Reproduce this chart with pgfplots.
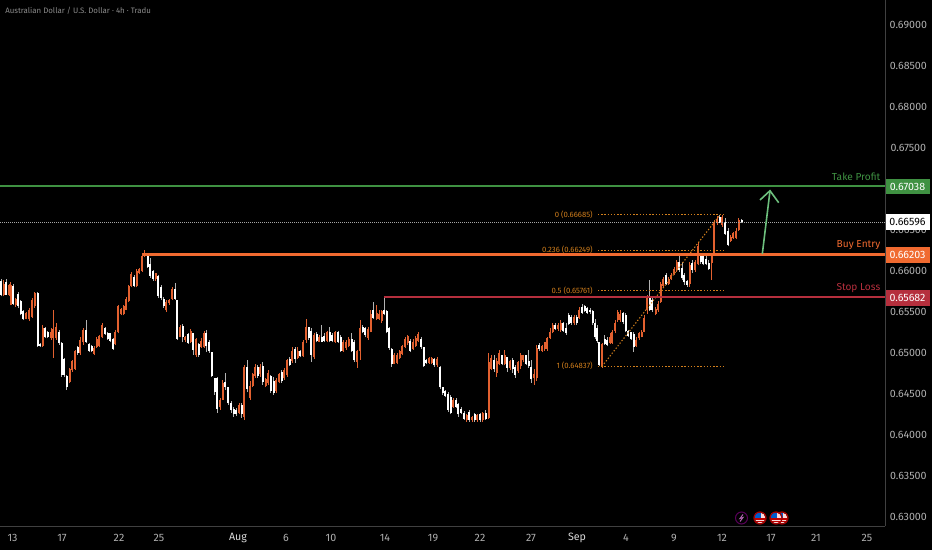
\documentclass[border=0pt]{standalone}
\usepackage{pgfplots}
\usepackage{pgfplotstable}
\usepackage{fontspec}
\setmainfont{Fira Sans}
\pgfplotsset{compat=1.18}
\definecolor{upc}{HTML}{E2602F}
\definecolor{tpg}{HTML}{3F9142}
\definecolor{ben}{HTML}{F06A30}
\definecolor{slr}{HTML}{B52F3D}
\definecolor{fib}{HTML}{D07E1C}
\definecolor{tickc}{HTML}{B0B0B0}
\definecolor{sep}{HTML}{404040}
\definecolor{arr}{HTML}{6DBF7D}
\pgfplotstableread{
x o h l c
1 0.6588 0.6590 0.6569 0.6571
3.7 0.6571 0.6589 0.6569 0.6584
6.4 0.6586 0.6590 0.6571 0.6571
9 0.6571 0.6584 0.6569 0.6583
10.7 0.6559 0.6587 0.6558 0.6583
13.3 0.6582 0.6584 0.6559 0.6560
15.5 0.6558 0.6567 0.6556 0.6566
18 0.6572 0.6574 0.6555 0.6557
20.7 0.6563 0.6565 0.6546 0.6548
23.3 0.6551 0.6552 0.6540 0.6541
26 0.6542 0.6550 0.6541 0.6549
29 0.6541 0.6555 0.6539 0.6553
32 0.6544 0.6567 0.6543 0.6565
34.7 0.6557 0.6574 0.6555 0.6573
37.7 0.6573 0.6574 0.6507 0.6508
40 0.6511 0.6512 0.6507 0.6508
42.7 0.6508 0.6534 0.6507 0.6530
45 0.6530 0.6532 0.6518 0.6519
47.7 0.6525 0.6527 0.6518 0.6520
51 0.6518 0.6530 0.6516 0.6526
53.3 0.6518 0.6552 0.6494 0.6529
56 0.6518 0.6536 0.6516 0.6532
59 0.6526 0.6528 0.6510 0.6512
61.7 0.6512 0.6513 0.6471 0.6473
64 0.6493 0.6494 0.6471 0.6473
66.7 0.6472 0.6473 0.6455 0.6458
69.7 0.6465 0.6482 0.6463 0.6480
72.3 0.6479 0.6492 0.6477 0.6490
75 0.6481 0.6504 0.6479 0.6502
77.7 0.6507 0.6508 0.6498 0.6500
80.3 0.6500 0.6519 0.6498 0.6516
83 0.6513 0.6530 0.6510 0.6528
86 0.6528 0.6540 0.6512 0.6513
89 0.6511 0.6512 0.6501 0.6503
91.5 0.6509 0.6510 0.6501 0.6503
94 0.6499 0.6508 0.6498 0.6506
96.7 0.6507 0.6519 0.6506 0.6517
99.3 0.6509 0.6522 0.6507 0.6521
102 0.6519 0.6536 0.6518 0.6534
105 0.6530 0.6532 0.6522 0.6523
107.5 0.6524 0.6526 0.6516 0.6517
110.3 0.6524 0.6524 0.6513 0.6515
113 0.6517 0.6518 0.6504 0.6505
115.3 0.6511 0.6528 0.6510 0.6526
118.3 0.6525 0.6559 0.6524 0.6557
121 0.6547 0.6555 0.6546 0.6554
123.7 0.6547 0.6559 0.6546 0.6557
126 0.6553 0.6568 0.6552 0.6566
128.7 0.6564 0.6583 0.6562 0.6582
131.3 0.6582 0.6599 0.6580 0.6596
134 0.6593 0.6595 0.6580 0.6582
136.7 0.6582 0.6602 0.6580 0.6600
139.3 0.6597 0.6604 0.6596 0.6602
142 0.6600 0.6622 0.6599 0.6618
144.7 0.6618 0.6625 0.6617 0.6621
147.7 0.6620 0.6621 0.6604 0.6605
150.3 0.6608 0.6616 0.6592 0.6594
153 0.6600 0.6601 0.6588 0.6590
155.7 0.6590 0.6598 0.6588 0.6597
158.3 0.6594 0.6595 0.6567 0.6570
161 0.6581 0.6583 0.6565 0.6567
163.7 0.6566 0.6568 0.6555 0.6557
166.3 0.6552 0.6565 0.6550 0.6562
169 0.6561 0.6566 0.6559 0.6565
172.3 0.6566 0.6580 0.6565 0.6578
175 0.6578 0.6585 0.6565 0.6566
177 0.6565 0.6565 0.6516 0.6517
180 0.6520 0.6534 0.6519 0.6532
182.7 0.6533 0.6535 0.6513 0.6520
185.3 0.6516 0.6521 0.6513 0.6519
188 0.6523 0.6524 0.6511 0.6512
190.7 0.6513 0.6529 0.6512 0.6527
193.3 0.6524 0.6524 0.6498 0.6504
196 0.6497 0.6518 0.6495 0.6517
198.7 0.6511 0.6512 0.6495 0.6497
201.3 0.6507 0.6518 0.6506 0.6515
204 0.6507 0.6527 0.6506 0.6524
206.3 0.6524 0.6528 0.6501 0.6508
209 0.6514 0.6516 0.6500 0.6502
211.7 0.6501 0.6501 0.6471 0.6472
214.7 0.6470 0.6470 0.6449 0.6452
217.3 0.6470 0.6471 0.6427 0.6432
220 0.6434 0.6445 0.6431 0.6443
222.7 0.6443 0.6467 0.6443 0.6463
225.3 0.6465 0.6476 0.6455 0.6458
228.3 0.6458 0.6458 0.6437 0.6439
231 0.6439 0.6441 0.6427 0.6430
233.7 0.6432 0.6434 0.6422 0.6425
236.3 0.6431 0.6433 0.6423 0.6425
239 0.6427 0.6439 0.6425 0.6437
241.7 0.6436 0.6439 0.6421 0.6425
244.3 0.6422 0.6485 0.6418 0.6483
247 0.6483 0.6492 0.6452 0.6456
250 0.6445 0.6466 0.6443 0.6460
252.7 0.6460 0.6476 0.6458 0.6474
255 0.6472 0.6486 0.6470 0.6483
257.7 0.6483 0.6485 0.6470 0.6472
260.3 0.6474 0.6486 0.6471 0.6483
262.7 0.6484 0.6489 0.6461 0.6465
265.5 0.6460 0.6470 0.6458 0.6468
268 0.6463 0.6479 0.6461 0.6476
270.7 0.6472 0.6473 0.6451 0.6454
273.7 0.6466 0.6471 0.6449 0.6451
276.3 0.6454 0.6469 0.6451 0.6467
279 0.6465 0.6476 0.6463 0.6474
281.7 0.6477 0.6479 0.6464 0.6466
284.3 0.6469 0.6482 0.6467 0.6479
287 0.6473 0.6493 0.6471 0.6491
289.7 0.6493 0.6495 0.6484 0.6485
292.3 0.6490 0.6507 0.6488 0.6503
295 0.6505 0.6507 0.6488 0.6493
297.7 0.6494 0.6507 0.6493 0.6503
300.3 0.6503 0.6504 0.6495 0.6496
303 0.6496 0.6516 0.6495 0.6513
306 0.6516 0.6541 0.6512 0.6532
308.7 0.6532 0.6532 0.6516 0.6518
311.3 0.6527 0.6531 0.6489 0.6498
314 0.6495 0.6524 0.6493 0.6522
316.7 0.6523 0.6525 0.6513 0.6515
319.3 0.6514 0.6522 0.6513 0.6520
321.7 0.6520 0.6534 0.6513 0.6514
324.3 0.6521 0.6524 0.6513 0.6515
327 0.6515 0.6527 0.6513 0.6525
329.7 0.6526 0.6532 0.6513 0.6515
332.3 0.6522 0.6524 0.6513 0.6515
335 0.6514 0.6527 0.6512 0.6525
338 0.6525 0.6527 0.6512 0.6513
340.7 0.6520 0.6522 0.6501 0.6503
343.3 0.6503 0.6516 0.6501 0.6514
346 0.6506 0.6516 0.6504 0.6514
348.7 0.6508 0.6519 0.6507 0.6517
351.7 0.6517 0.6524 0.6501 0.6503
354.3 0.6514 0.6516 0.6489 0.6491
357.3 0.6489 0.6504 0.6482 0.6502
360 0.6503 0.6540 0.6492 0.6530
362.7 0.6532 0.6534 0.6524 0.6526
365.3 0.6530 0.6532 0.6519 0.6522
368 0.6518 0.6532 0.6516 0.6529
370.7 0.6526 0.6552 0.6525 0.6548
373 0.6552 0.6562 0.6542 0.6543
376.7 0.6541 0.6559 0.6540 0.6549
379 0.6541 0.6552 0.6540 0.6548
381.5 0.6539 0.6552 0.6537 0.6551
384 0.6553 0.6568 0.6546 0.6548
386.7 0.6551 0.6552 0.6524 0.6526
389 0.6530 0.6532 0.6504 0.6506
391.7 0.6505 0.6506 0.6483 0.6486
394.3 0.6487 0.6500 0.6486 0.6497
397 0.6488 0.6500 0.6486 0.6498
399.7 0.6494 0.6504 0.6493 0.6502
402.3 0.6499 0.6510 0.6497 0.6508
405 0.6507 0.6519 0.6506 0.6517
407.7 0.6512 0.6522 0.6510 0.6521
410.3 0.6515 0.6517 0.6501 0.6503
413 0.6505 0.6517 0.6504 0.6513
415.7 0.6509 0.6521 0.6507 0.6518
418.3 0.6515 0.6525 0.6513 0.6523
421 0.6517 0.6519 0.6505 0.6507
423.7 0.6507 0.6507 0.6483 0.6484
426.3 0.6492 0.6493 0.6487 0.6488
429 0.6488 0.6495 0.6487 0.6494
431.7 0.6488 0.6495 0.6486 0.6494
434.3 0.6493 0.6494 0.6483 0.6485
437 0.6485 0.6495 0.6483 0.6493
440 0.6483 0.6484 0.6456 0.6458
442.7 0.6458 0.6459 0.6449 0.6451
445.3 0.6454 0.6455 0.6446 0.6448
448 0.6450 0.6452 0.6428 0.6431
450.7 0.6446 0.6449 0.6425 0.6427
453.3 0.6434 0.6445 0.6433 0.6443
456 0.6443 0.6445 0.6433 0.6434
458.3 0.6438 0.6439 0.6422 0.6425
461 0.6432 0.6434 0.6425 0.6427
464 0.6427 0.6429 0.6418 0.6420
466.7 0.6418 0.6425 0.6416 0.6424
469.3 0.6428 0.6431 0.6416 0.6418
472 0.6418 0.6423 0.6416 0.6422
474.7 0.6425 0.6427 0.6416 0.6418
477.3 0.6418 0.6425 0.6416 0.6424
480 0.6425 0.6427 0.6416 0.6418
482.7 0.6418 0.6428 0.6416 0.6427
485.7 0.6427 0.6431 0.6418 0.6420
488.7 0.6421 0.6500 0.6419 0.6489
491.3 0.6481 0.6498 0.6479 0.6494
494 0.6492 0.6497 0.6477 0.6480
496.7 0.6475 0.6494 0.6471 0.6490
499.3 0.6487 0.6504 0.6485 0.6500
502 0.6497 0.6498 0.6485 0.6487
504.7 0.6487 0.6504 0.6485 0.6497
507.3 0.6495 0.6495 0.6477 0.6482
510 0.6482 0.6492 0.6479 0.6490
512.7 0.6492 0.6494 0.6476 0.6480
515.3 0.6483 0.6485 0.6470 0.6473
518 0.6478 0.6490 0.6476 0.6489
520.7 0.6484 0.6500 0.6481 0.6498
523.3 0.6491 0.6498 0.6489 0.6497
526 0.6497 0.6498 0.6485 0.6487
528.7 0.6490 0.6504 0.6482 0.6484
531.3 0.6483 0.6492 0.6464 0.6468
534 0.6470 0.6481 0.6461 0.6474
536.7 0.6469 0.6510 0.6466 0.6506
539.3 0.6510 0.6512 0.6503 0.6505
542 0.6503 0.6510 0.6501 0.6509
544.7 0.6505 0.6513 0.6503 0.6513
547.3 0.6505 0.6520 0.6503 0.6518
550 0.6518 0.6530 0.6517 0.6526
552.7 0.6526 0.6536 0.6524 0.6534
555.3 0.6534 0.6537 0.6528 0.6529
558 0.6529 0.6536 0.6527 0.6534
560.7 0.6528 0.6540 0.6526 0.6536
563.3 0.6536 0.6538 0.6526 0.6527
566 0.6531 0.6536 0.6522 0.6524
568.7 0.6546 0.6549 0.6534 0.6535
571.3 0.6544 0.6546 0.6534 0.6536
574 0.6536 0.6546 0.6534 0.6544
576.7 0.6544 0.6546 0.6534 0.6536
579.3 0.6543 0.6556 0.6542 0.6553
582 0.6556 0.6560 0.6548 0.6549
584.7 0.6557 0.6559 0.6550 0.6551
587.3 0.6555 0.6556 0.6548 0.6549
590 0.6553 0.6555 0.6548 0.6550
592.7 0.6551 0.6552 0.6534 0.6536
595.3 0.6537 0.6541 0.6517 0.6519
597.3 0.6530 0.6534 0.6512 0.6515
599.3 0.6513 0.6513 0.6484 0.6485
602 0.6484 0.6512 0.6482 0.6511
604.7 0.6517 0.6522 0.6510 0.6511
607.3 0.6516 0.6519 0.6508 0.6510
610 0.6512 0.6524 0.6511 0.6520
612.3 0.6512 0.6528 0.6511 0.6526
615 0.6527 0.6540 0.6524 0.6537
617.7 0.6540 0.6552 0.6538 0.6550
620.3 0.6540 0.6552 0.6538 0.6547
623 0.6549 0.6550 0.6535 0.6538
625.7 0.6546 0.6549 0.6525 0.6527
628.3 0.6527 0.6528 0.6520 0.6521
631 0.6526 0.6526 0.6516 0.6517
633.7 0.6523 0.6525 0.6501 0.6507
636.3 0.6508 0.6519 0.6507 0.6516
639 0.6518 0.6526 0.6516 0.6524
641.7 0.6520 0.6528 0.6519 0.6526
644.3 0.6526 0.6546 0.6525 0.6543
647 0.6552 0.6571 0.6548 0.6568
649.7 0.6570 0.6589 0.6551 0.6553
652.3 0.6565 0.6567 0.6550 0.6552
655.7 0.6547 0.6556 0.6546 0.6554
658.3 0.6552 0.6563 0.6550 0.6560
660.7 0.6562 0.6587 0.6561 0.6584
663.3 0.6582 0.6593 0.6580 0.6590
666 0.6595 0.6597 0.6583 0.6584
668.7 0.6584 0.6593 0.6583 0.6590
671.3 0.6590 0.6597 0.6589 0.6595
674 0.6596 0.6605 0.6595 0.6602
676.7 0.6601 0.6613 0.6599 0.6611
679.3 0.6611 0.6620 0.6599 0.6601
682 0.6604 0.6611 0.6589 0.6591
684.3 0.6595 0.6597 0.6583 0.6586
687 0.6588 0.6589 0.6581 0.6583
689.7 0.6584 0.6611 0.6581 0.6607
692.3 0.6610 0.6613 0.6598 0.6601
695 0.6601 0.6613 0.6599 0.6611
698 0.6608 0.6635 0.6607 0.6630
700.7 0.6620 0.6622 0.6609 0.6611
703.3 0.6618 0.6620 0.6607 0.6608
706 0.6615 0.6618 0.6607 0.6608
708.7 0.6610 0.6613 0.6601 0.6603
711.7 0.6610 0.6622 0.6589 0.6621
714.3 0.6621 0.6662 0.6619 0.6660
717 0.6658 0.6667 0.6656 0.6662
719.7 0.6666 0.6668 0.6658 0.6659
722.3 0.6656 0.6668 0.6654 0.6666
725.3 0.6660 0.6665 0.6644 0.6645
728 0.6649 0.6652 0.6630 0.6632
730.7 0.6636 0.6644 0.6635 0.6642
733.3 0.6640 0.6648 0.6639 0.6646
736 0.6640 0.6652 0.6639 0.6649
738.7 0.6650 0.6665 0.6649 0.6662
741.7 0.6662 0.6664 0.6659 0.6660
}\candles
\newcommand{\tag}[4]{% colour, text colour, py centre, text
  \fill[#1] (885.5,#3-7.8) rectangle (929.5,#3+7.8);
  \node[text=#2,font=\fontsize{8}{9}\selectfont] at (907.5,#3) {#4};}
\newcommand{\flagc}[2]{%
  \fill[white!85!red] (#1,#2) circle (5.4);
  \fill[red!75!black] (#1-5,#2+0.5) rectangle (#1+5,#2+1.7);
  \fill[red!75!black] (#1-4,#2+3) rectangle (#1+4,#2+4.2);
  \fill[blue!55!cyan!80!black] (#1-4.8,#2-4.5) rectangle (#1+0.8,#2-0.3);
  \draw[red!65!black,line width=0.9pt] (#1,#2) circle (6);}
\begin{document}
\begin{tikzpicture}
\useasboundingbox (0,0) rectangle (699pt,412.5pt);
\fill[black] (0,0) rectangle (699pt,412.5pt);
\begin{axis}[
  at={(0pt,18pt)}, anchor=south west,
  scale only axis, width=663.75pt, height=394.5pt,
  xmin=0, xmax=885, ymin=0.62890, ymax=0.69305,
  clip=true,
  axis x line=bottom, axis y line=right,
  axis line style={draw=sep,-,line width=0.7pt},
  major tick length=0pt, tick style={draw=none},
  xtick={12.5,62,119,159,238,286,331,385,433,480,531,577,626,674,722,771,816,867},
  xticklabels={13,17,22,25,\textcolor{white!85!black}{Aug},6,10,14,19,22,27,\textcolor{white!85!black}{Sep},4,9,12,17,21,25},
  ytick={0.63,0.635,0.64,0.645,0.65,0.655,0.66,0.665,0.675,0.68,0.685,0.69},
  /pgf/number format/.cd, fixed, fixed zerofill, precision=5, assume math mode=true,
  /pgfplots/.cd,
  yticklabel style={font=\fontsize{8}{9}\selectfont,text=tickc,anchor=center,xshift=17.5pt},
  xticklabel style={font=\fontsize{8}{9}\selectfont,text=tickc,anchor=center,yshift=-9pt},
  scaled y ticks=false,
  error bars/error bar style={line cap=butt},
]
% wicks
\addplot[draw=none,mark=none,restrict expr to domain={\thisrow{c}-\thisrow{o}}{0:1},
  error bars/.cd,y dir=plus,y explicit,error mark=none,
  error bar style={draw=upc,line width=0.7pt}]
  table[x=x,y=l,y error plus expr=\thisrow{h}-\thisrow{l}] {\candles};
\addplot[draw=none,mark=none,restrict expr to domain={\thisrow{c}-\thisrow{o}}{-1:0},
  error bars/.cd,y dir=plus,y explicit,error mark=none,
  error bar style={draw=white!70!black,line width=0.7pt}]
  table[x=x,y=l,y error plus expr=\thisrow{h}-\thisrow{l}] {\candles};
% bodies
\addplot[draw=none,mark=none,restrict expr to domain={\thisrow{c}-\thisrow{o}}{0:1},
  error bars/.cd,y dir=plus,y explicit,error mark=none,
  error bar style={draw=upc,line width=1.5pt}]
  table[x=x,y=o,y error plus expr=\thisrow{c}-\thisrow{o}] {\candles};
\addplot[draw=none,mark=none,restrict expr to domain={\thisrow{c}-\thisrow{o}}{-1:0},
  error bars/.cd,y dir=plus,y explicit,error mark=none,
  error bar style={draw=white,line width=1.5pt}]
  table[x=x,y=c,y error plus expr=\thisrow{o}-\thisrow{c}] {\candles};
% last-price line
\addplot[white!65!black,line width=0.5pt,densely dotted] coordinates {(0,0.66596) (885,0.66596)};
% fib
\addplot[fib,line width=0.8pt,dash pattern=on 1pt off 1.4pt] coordinates {(598,0.66685) (723,0.66685)};
\addplot[fib,line width=0.8pt,dash pattern=on 1pt off 1.4pt] coordinates {(598,0.66249) (723,0.66249)};
\addplot[fib,line width=0.8pt,dash pattern=on 1pt off 1.4pt] coordinates {(598,0.65761) (723,0.65761)};
\addplot[fib,line width=0.8pt,dash pattern=on 1pt off 1.4pt] coordinates {(598,0.64837) (723,0.64837)};
\addplot[fib,line width=0.8pt,dash pattern=on 1pt off 1.4pt] coordinates {(602,0.64837) (720,0.66685)};
% levels
\addplot[tpg,line width=1.5pt] coordinates {(0,0.67038) (885,0.67038)};
\addplot[ben,line width=1.8pt] coordinates {(143,0.66203) (885,0.66203)};
\addplot[slr,line width=1.5pt] coordinates {(384,0.65682) (885,0.65682)};
% arrow
\addplot[arr,line width=1.2pt] coordinates {(762.3,0.66207) (770,0.66979)};
\addplot[arr,line width=1.2pt,line join=miter] coordinates {(760,0.66866) (770,0.66979) (778.7,0.66833)};
\end{axis}
\begin{scope}[x=0.75pt,y=-0.75pt,yshift=412.5pt]
\node[anchor=west,inner sep=0pt,text=white!55!black,font=\fontsize{5.9}{7}\selectfont] at (5,11) {Australian Dollar / U.S. Dollar · 4h · Tradu};
\node[anchor=east,inner sep=0pt,text=fib,font=\fontsize{5.8}{7}\selectfont] at (593,214.5) {0 (0.66685)};
\node[anchor=east,inner sep=0pt,text=fib,font=\fontsize{5.8}{7}\selectfont] at (593,250) {0.236 (0.66249)};
\node[anchor=east,inner sep=0pt,text=fib,font=\fontsize{5.8}{7}\selectfont] at (593,290.5) {0.5 (0.65761)};
\node[anchor=east,inner sep=0pt,text=fib,font=\fontsize{5.8}{7}\selectfont] at (593,366) {1 (0.64837)};
\node[anchor=east,inner sep=0pt,text=tpg,font=\fontsize{7.6}{9}\selectfont] at (880.5,177) {Take Profit};
\node[anchor=east,inner sep=0pt,text=ben,font=\fontsize{7.6}{9}\selectfont] at (880.5,245) {Buy Entry};
\node[anchor=east,inner sep=0pt,text=slr,font=\fontsize{7.6}{9}\selectfont] at (880.5,288.5) {Stop Loss};
\tag{tpg}{white}{186.5}{0.67038}
\tag{white}{black}{222}{0.66596}
\tag{ben}{white}{255}{0.66203}
\tag{slr}{white}{298}{0.65682}
% marks along the axis
\draw[violet!70!black,line width=0.8pt] (741.5,518) circle (6);
\draw[violet!60!white,line width=0.7pt] (743,514.5) -- (740,518.5) -- (743,517.5) -- (740,521.5);
\flagc{782}{518}
\flagc{776}{518}
\flagc{760}{518}
\end{scope}
\end{tikzpicture}
\end{document}
